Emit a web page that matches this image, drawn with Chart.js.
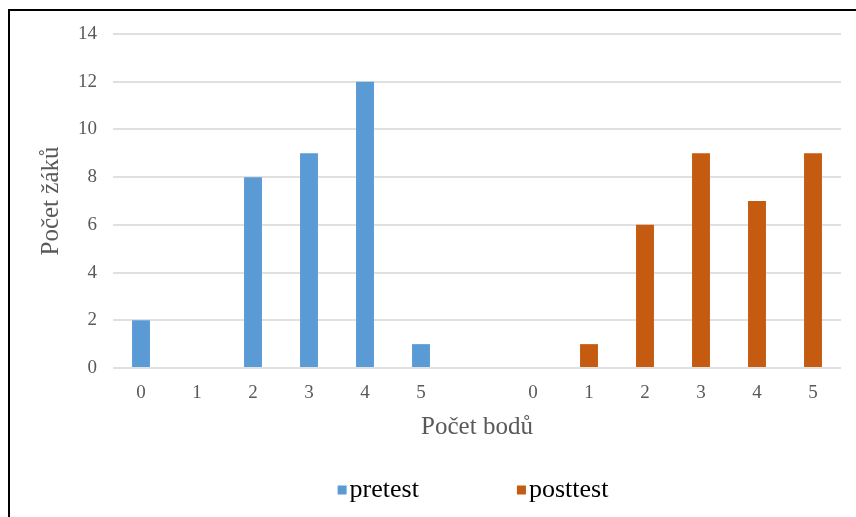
<!DOCTYPE html>
<html>
<head>
<meta charset="utf-8">
<script src="https://cdn.jsdelivr.net/npm/chart.js@4.4.0/dist/chart.umd.min.js"></script>
<style>
    html, body { margin: 0; padding: 0; background: #fff; }
    #wrap { position: relative; width: 856px; height: 517px; overflow: hidden; }
    #frame { position: absolute; left: 8px; top: 9px; width: 900px; height: 600px;
             border-top: 2px solid #000; border-left: 2px solid #000; }
    #chart { position: absolute; left: 0; top: 0; }
</style>
</head>
<body>
<div id="wrap">
    <div id="frame"></div>
    <canvas id="chart" width="856" height="517"></canvas>
</div>
<script>
// Score categories: pretest block, empty gap, posttest block
const categories = ['0', '1', '2', '3', '4', '5', '', '0', '1', '2', '3', '4', '5'];

// Number of pupils per score
const pretestValues  = [2, 0, 8, 9, 12, 1, null, null, null, null, null, null, null];
const posttestValues = [null, null, null, null, null, null, null, 0, 1, 6, 9, 7, 9];

const seriesNames = ['pretest', 'posttest'];
const seriesColors = ['#5b9bd5', '#c55a11'];

const axisGray = '#595959';
const serif = '"Liberation Serif", "Times New Roman", serif';

// Legend drawn below the axis title, items spread apart like the original
const bottomLegend = {
    id: 'bottomLegend',
    afterDraw(chart) {
        const ctx = chart.ctx;
        const box = 9, textGap = 3, itemGap = 98;
        ctx.save();
        ctx.font = '26px ' + serif;
        ctx.textBaseline = 'middle';
        const widths = chart.data.datasets.map(ds => box + textGap + ctx.measureText(ds.label).width);
        const total = widths.reduce((a, b) => a + b, 0) + itemGap * (widths.length - 1);
        let x = (chart.chartArea.left + chart.chartArea.right) / 2 - 4 - total / 2;
        const y = 490;
        chart.data.datasets.forEach((ds, i) => {
            ctx.fillStyle = ds.backgroundColor;
            ctx.fillRect(x, y - box / 2, box, box);
            ctx.fillStyle = '#000';
            ctx.fillText(ds.label, x + box + textGap, y);
            x += widths[i] + itemGap;
        });
        ctx.restore();
    }
};

const ctx = document.getElementById('chart').getContext('2d');

new Chart(ctx, {
    type: 'bar',
    data: {
        labels: categories,
        datasets: [
            { label: seriesNames[0], data: pretestValues, backgroundColor: seriesColors[0] },
            { label: seriesNames[1], data: posttestValues, backgroundColor: seriesColors[1] }
        ]
    },
    options: {
        responsive: false,
        animation: false,
        layout: { padding: { top: 34, right: 15, bottom: 75, left: 20 } },
        datasets: {
            bar: { categoryPercentage: 1, barPercentage: 0.32, borderWidth: 0 }
        },
        plugins: {
            legend: { display: false },
            tooltip: { enabled: false }
        },
        scales: {
            x: {
                stacked: true,
                afterFit: scale => { scale.height = 74; },
                grid: { display: false, drawTicks: false },
                border: { display: false },
                ticks: { color: axisGray, font: { family: serif, size: 19 }, padding: 14 },
                title: {
                    display: true,
                    text: 'Počet bodů',
                    color: axisGray,
                    font: { family: serif, size: 25 },
                    padding: { top: 0, bottom: 0 }
                }
            },
            y: {
                stacked: true,
                min: 0,
                max: 14,
                afterFit: scale => { scale.width = 93; },
                grid: { color: '#e0e0e0', lineWidth: 2, drawTicks: false },
                border: { display: false },
                ticks: { stepSize: 2, color: axisGray, font: { family: serif, size: 19 }, padding: 16 },
                title: {
                    display: true,
                    text: 'Počet žáků',
                    color: axisGray,
                    font: { family: serif, size: 25 },
                    padding: { top: 16, bottom: 0 }
                }
            }
        }
    },
    plugins: [bottomLegend]
});
</script>
</body>
</html>
